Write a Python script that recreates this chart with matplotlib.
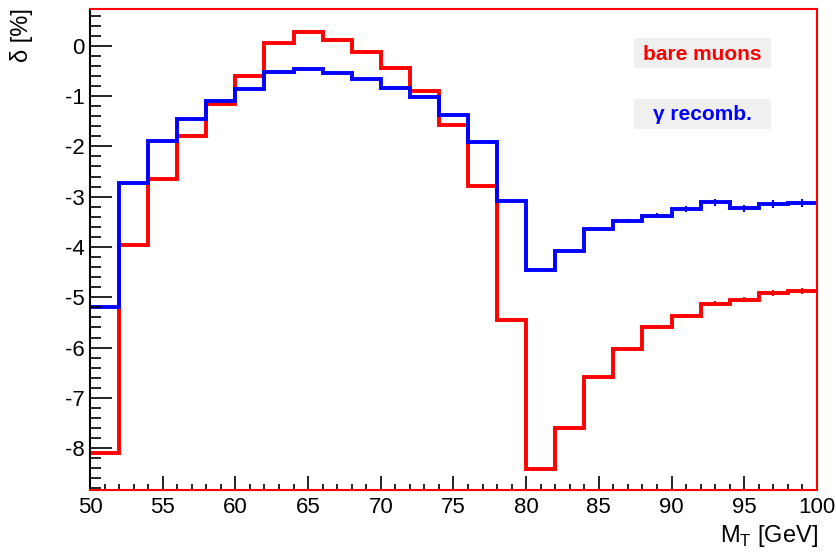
import matplotlib.pyplot as plt
import numpy as np
from matplotlib.patches import Rectangle
from matplotlib.ticker import MultipleLocator

plt.rcParams['font.family'] = ['Liberation Sans', 'DejaVu Sans']
plt.rcParams['axes.unicode_minus'] = False

# bin edges in M_T [GeV]
edges = np.arange(50, 101, 2)

# delta [%] per bin
bare = [-8.10, -3.96, -2.64, -1.79, -1.16, -0.60, 0.06, 0.28, 0.11, -0.13,
        -0.45, -0.89, -1.58, -2.78, -5.45, -8.42, -7.59, -6.59, -6.03, -5.60,
        -5.37, -5.13, -5.05, -4.92, -4.88]
bare_err = [0, 0, 0, 0, 0, 0, 0, 0, 0, 0,
            0, 0, 0, 0, 0, 0, 0.02, 0.03, 0.03, 0.04,
            0.04, 0.05, 0.05, 0.06, 0.06]
recomb = [-5.20, -2.72, -1.90, -1.46, -1.09, -0.86, -0.52, -0.46, -0.55, -0.67,
          -0.84, -1.02, -1.38, -1.91, -3.09, -4.45, -4.08, -3.65, -3.49, -3.38,
          -3.24, -3.11, -3.23, -3.15, -3.12]
recomb_err = [0, 0, 0, 0, 0, 0, 0, 0, 0, 0,
              0, 0, 0, 0, 0, 0, 0.02, 0.03, 0.04, 0.05,
              0.06, 0.07, 0.07, 0.08, 0.08]

centers = (edges[:-1] + edges[1:]) / 2

fig = plt.figure(figsize=(8.37, 5.53), dpi=100)
ax = fig.add_axes([0.1075, 0.114, 0.8685, 0.8697])

ax.stairs(bare, edges, color='#ff0000', lw=2.8, baseline=None)
ax.errorbar(centers, bare, yerr=bare_err, fmt='none', ecolor='#ff0000', elinewidth=1.5)
ax.stairs(recomb, edges, color='#0000ff', lw=2.8, baseline=None)
ax.errorbar(centers, recomb, yerr=recomb_err, fmt='none', ecolor='#0000ff', elinewidth=1.5)

ax.set_xlim(50, 100)
ax.set_ylim(-8.83, 0.73)

ax.xaxis.set_major_locator(MultipleLocator(5))
ax.xaxis.set_minor_locator(MultipleLocator(1))
ax.yaxis.set_major_locator(MultipleLocator(1))
ax.yaxis.set_minor_locator(MultipleLocator(0.2))
ax.tick_params(axis='both', which='both', direction='in', labelsize=16, width=1.2, color='black')
ax.tick_params(axis='y', which='major', length=15.5, pad=4)
ax.tick_params(axis='y', which='minor', length=8)
ax.tick_params(axis='x', which='major', length=10, pad=5)
ax.tick_params(axis='x', which='minor', length=4.5)

for side in ['top', 'right', 'bottom']:
    ax.spines[side].set_color('#ff0000')
    ax.spines[side].set_linewidth(1.5)
ax.spines['left'].set_color('black')
ax.spines['left'].set_linewidth(1.5)

fig.text(22 / 837, 1 - 8 / 553, 'δ [%]', rotation=90, ha='center', va='top', fontsize=17)
fig.text(818 / 837, 1 - 536 / 553, r'M$_\mathregular{T}$ [GeV]', ha='right', va='center', fontsize=17)

# legend boxes
for y0, label, col in [(38, 'bare muons', '#ff0000'), (99, 'γ recomb.', '#0000ff')]:
    fig.patches.append(Rectangle((634 / 837, 1 - (y0 + 30) / 553), 137 / 837, 30 / 553,
                                 transform=fig.transFigure, facecolor='#f0f0f0',
                                 edgecolor='none'))
    fig.text(702 / 837, 1 - (y0 + 16) / 553, label, color=col, fontsize=15,
             fontweight='bold', ha='center', va='center')

fig.savefig('out.png', dpi=100)
